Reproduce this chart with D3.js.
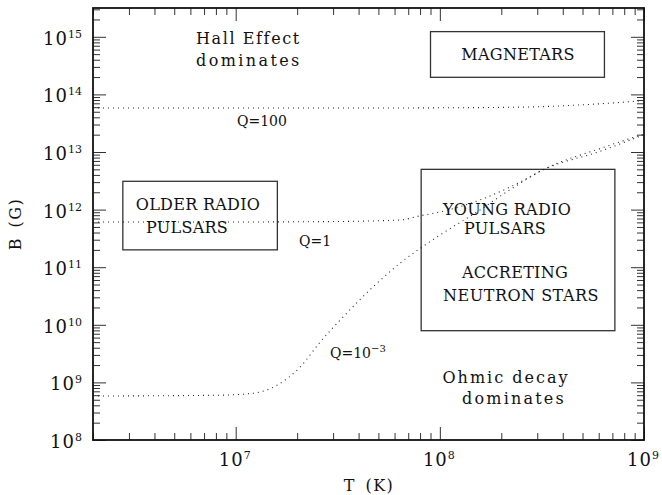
<!DOCTYPE html>
<html lang="en">
<head>
<meta charset="utf-8">
<title>B vs T</title>
<script src="https://d3js.org/d3.v7.min.js"></script>
<style>
  body { margin: 0; background: #fff; }
  svg text { font-family: "DejaVu Serif", serif; fill: #111; }
  .tick line { stroke: #333; stroke-width: 1; }
</style>
</head>
<body>
<div id="chart"></div>
<script>
// curves: temperature T (K) vs field B (G)
const q100T = [2e6, 1e7, 5e7, 1e8, 2e8, 3e8, 5e8, 7e8, 1e9];
const q100B = [5.8e13, 5.8e13, 5.8e13, 5.85e13, 5.95e13, 6.1e13, 6.6e13, 7.1e13, 7.8e13];

const q1T = [2e6, 1e7, 3e7, 6.4e7, 8e7, 1e8, 1.57e8, 2.47e8, 3.2e8, 6.1e8, 1e9];
const q1B = [6.1e11, 6.1e11, 6.2e11, 6.6e11, 7.8e11, 9.1e11, 1.47e12, 3.0e12, 4.9e12, 1.03e13, 2.0e13];

const q3T = [2e6, 8.4e6, 1.22e7, 1.6e7, 2.07e7, 2.59e7, 3.36e7, 4.93e7, 6.4e7, 1e8, 1.57e8, 2.2e8, 3.2e8, 6.1e8, 1e9];
const q3B = [5.8e8, 6.0e8, 6.5e8, 9.0e8, 1.85e9, 5.0e9, 1.37e10, 5.3e10, 1.18e11, 3.6e11, 9.8e11, 2.2e12, 4.9e12, 1.15e13, 2.05e13];

// source regions (T range, B range)
const regionT = [[2.8e6, 1.6e7], [9.0e7, 6.4e8], [8.1e7, 7.2e8]];
const regionB = [[2.0e11, 3.1e12], [1.98e14, 1.23e15], [7.9e9, 5.0e12]];

const xMajor = [1e7, 1e8, 1e9];
const yMajor = [1e8, 1e9, 1e10, 1e11, 1e12, 1e13, 1e14, 1e15];

const W = 662, H = 495;
const L = 93, R = 644, T = 8, B = 440;

const svg = d3.select("#chart").append("svg")
  .attr("width", W).attr("height", H);

const x = d3.scaleLog().domain([2e6, 1e9]).range([L, R]);
const y = d3.scaleLog().domain([1e8, Math.pow(10, 15.5)]).range([B, T]);

const isMajor = v => Math.abs(Math.log10(v) - Math.round(Math.log10(v))) < 1e-6;
const xMinor = x.ticks().filter(v => !isMajor(v));
const yMinor = y.ticks().filter(v => !isMajor(v));

// inner ticks on all four sides
function ticks(axisFn, scale, pos, vals, len) {
  svg.append("g")
    .attr("transform", pos)
    .call(axisFn(scale).tickValues(vals).tickSize(-len).tickFormat(""))
    .call(g => g.select(".domain").remove());
}
ticks(d3.axisBottom, x, `translate(0,${B})`, xMajor, 13);
ticks(d3.axisBottom, x, `translate(0,${B})`, xMinor, 7);
ticks(d3.axisTop, x, `translate(0,${T})`, xMajor, 13);
ticks(d3.axisTop, x, `translate(0,${T})`, xMinor, 7);
ticks(d3.axisLeft, y, `translate(${L},0)`, yMajor, 13);
ticks(d3.axisLeft, y, `translate(${L},0)`, yMinor, 7);
ticks(d3.axisRight, y, `translate(${R},0)`, yMajor, 13);
ticks(d3.axisRight, y, `translate(${R},0)`, yMinor, 7);

// frame
svg.append("rect")
  .attr("x", L).attr("y", T).attr("width", R - L).attr("height", B - T)
  .attr("fill", "none").attr("stroke", "#111").attr("stroke-width", 1.8);

// tick labels: 10 with superscript exponent
function powLabel(sel, v) {
  sel.append("tspan").text("10").attr("letter-spacing", 1);
  sel.append("tspan").text(Math.round(Math.log10(v)))
    .attr("font-size", 11).attr("dy", -7);
}
xMajor.forEach(v => {
  svg.append("text").attr("x", x(v) - 1).attr("y", 466)
    .attr("text-anchor", "middle").attr("font-size", 18)
    .call(powLabel, v);
});
yMajor.forEach(v => {
  svg.append("text").attr("x", 82).attr("y", y(v) + 8)
    .attr("text-anchor", "end").attr("font-size", 18)
    .call(powLabel, v);
});

// axis titles
svg.append("text").attr("x", 369).attr("y", 491)
  .attr("text-anchor", "middle").attr("font-size", 16)
  .attr("letter-spacing", 1.5).attr("word-spacing", 3).text("T (K)");
svg.append("text")
  .attr("transform", "translate(21,224) rotate(-90)")
  .attr("text-anchor", "middle").attr("font-size", 16)
  .attr("letter-spacing", 1.5).attr("word-spacing", 3).text("B (G)");

// region boxes
regionT.forEach((t, i) => {
  const b = regionB[i];
  svg.append("rect")
    .attr("x", x(t[0])).attr("y", y(b[1]))
    .attr("width", x(t[1]) - x(t[0])).attr("height", y(b[0]) - y(b[1]))
    .attr("fill", "none").attr("stroke", "#333").attr("stroke-width", 1.3);
});

// dotted curves
const line = d3.line().x(d => x(d[0])).y(d => y(d[1])).curve(d3.curveMonotoneX);
[[q100T, q100B], [q1T, q1B], [q3T, q3B]].forEach(([ts, bs]) => {
  svg.append("path")
    .datum(ts.map((t, i) => [t, bs[i]]))
    .attr("d", line)
    .attr("fill", "none").attr("stroke", "#222")
    .attr("stroke-width", 1.1).attr("stroke-dasharray", "1,4");
});

// annotations: text, x, y, anchor, letter spacing
const notes = [
  ["Hall Effect", 196, 44, "start", 1.6],
  ["dominates", 196, 66, "start", 2.4],
  ["MAGNETARS", 518, 60, "middle", 0.3],
  ["OLDER RADIO", 198, 210, "middle", 0.3],
  ["PULSARS", 187, 233, "middle", 0.3],
  ["YOUNG RADIO", 507, 215, "middle", 0.3],
  ["PULSARS", 505, 234, "middle", 0.3],
  ["ACCRETING", 515, 278, "middle", 0.3],
  ["NEUTRON STARS", 521, 301, "middle", 0.5],
  ["Ohmic decay", 506, 383, "middle", 2],
  ["dominates", 514, 404, "middle", 2.2]
];
notes.forEach(([s, px, py, anchor, ls]) => {
  svg.append("text").attr("x", px).attr("y", py)
    .attr("text-anchor", anchor).attr("font-size", 16)
    .attr("letter-spacing", ls).text(s);
});

svg.append("text").attr("x", 237).attr("y", 126).attr("font-size", 14).text("Q=100");
svg.append("text").attr("x", 299).attr("y", 246).attr("font-size", 14).text("Q=1");
const q3 = svg.append("text").attr("x", 330).attr("y", 358).attr("font-size", 14);
q3.append("tspan").text("Q=10");
q3.append("tspan").text("−3").attr("font-size", 10).attr("dy", -6);
</script>
</body>
</html>
